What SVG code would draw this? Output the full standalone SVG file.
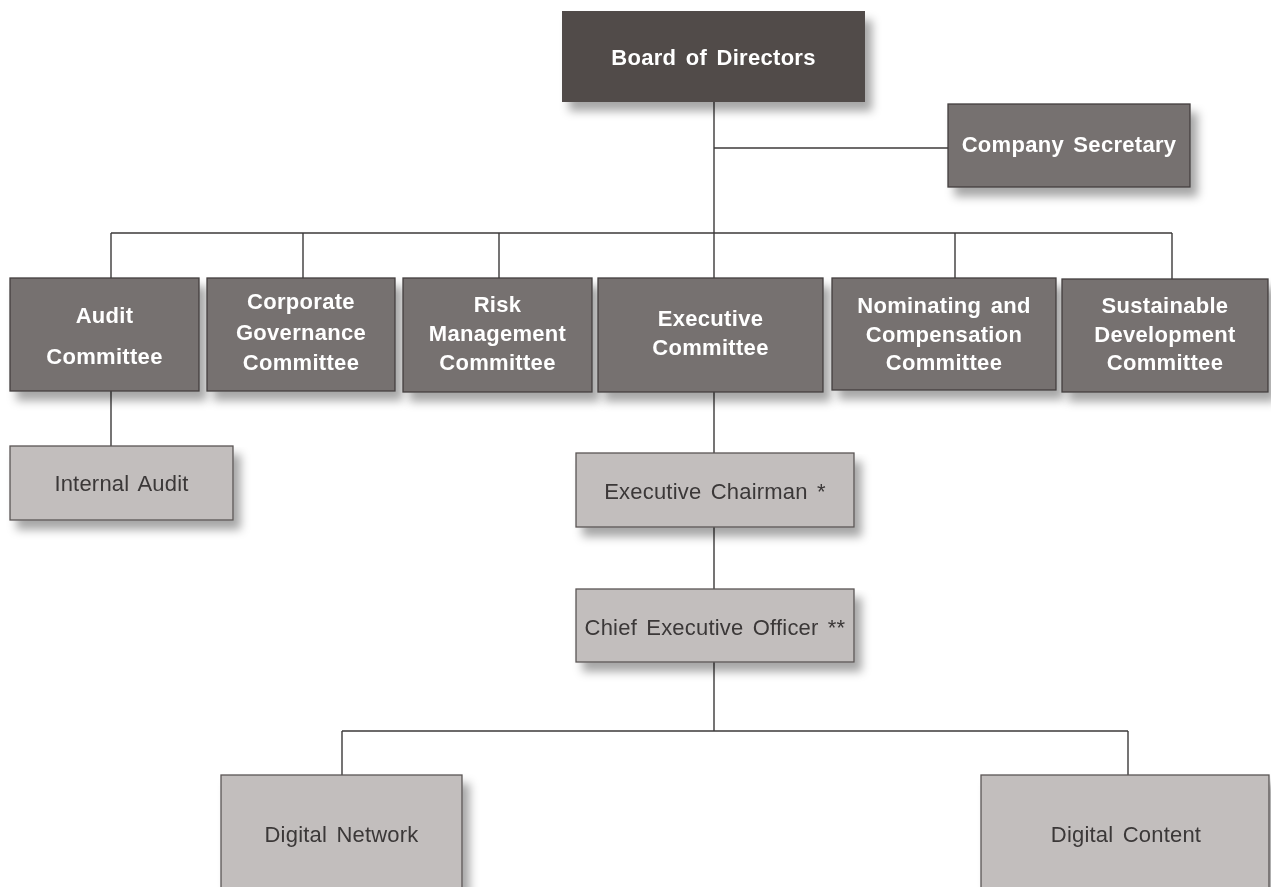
<svg xmlns="http://www.w3.org/2000/svg" width="1271" height="887" viewBox="0 0 1271 887">
<defs>
<filter id="sh" x="-10%" y="-10%" width="130%" height="140%">
<feGaussianBlur in="SourceAlpha" stdDeviation="5"/>
<feOffset dx="7" dy="9" result="b"/>
<feFlood flood-color="#000" flood-opacity="0.35"/>
<feComposite in2="b" operator="in"/>
<feMerge><feMergeNode/><feMergeNode in="SourceGraphic"/></feMerge>
</filter>
<style>
.top{fill:#514c4a;}
.mid{fill:#767170;stroke:#433f3e;stroke-width:1.3;}
.lt{fill:#c2bebd;stroke:#5a5655;stroke-width:1.3;}
.wt{font-family:"Liberation Sans",Arial,sans-serif;font-weight:bold;font-size:22px;fill:#ffffff;text-anchor:middle;letter-spacing:0.3px;word-spacing:3px;}
.dt{font-family:"Liberation Sans",Arial,sans-serif;font-size:22px;fill:#3a3737;text-anchor:middle;letter-spacing:0.2px;word-spacing:3px;}
.ln{fill:none;stroke:#3c3a3a;stroke-width:1.4;}
</style>
</defs>
<rect width="1271" height="887" fill="#ffffff"/>
<g id="connectors" class="ln">
<path d="M714 102V233M111 233H1172M111 233V278M303 233V278M499 233V278M714 233V278M955 233V278M1172 233V279"/>
<path d="M714 148H948"/>
<path d="M111 391V446"/>
<path d="M714 392V453M714 527V589M714 662V731M342 731H1128M342 731V775M1128 731V775"/>
</g>
<g id="board" filter="url(#sh)">
<rect class="top" x="562" y="11" width="303" height="91"/>
<text class="wt" x="713.5" y="65">Board of Directors</text>
</g>
<g id="secretary" filter="url(#sh)">
<rect class="mid" x="948" y="104" width="242" height="83"/>
<text class="wt" x="1069" y="152">Company Secretary</text>
</g>
<g id="audit" filter="url(#sh)">
<rect class="mid" x="10" y="278" width="189" height="113"/>
<text class="wt" x="104.5" y="323">Audit</text>
<text class="wt" x="104.5" y="364">Committee</text>
</g>
<g id="governance" filter="url(#sh)">
<rect class="mid" x="207" y="278" width="188" height="113"/>
<text class="wt" x="301" y="309">Corporate</text>
<text class="wt" x="301" y="340">Governance</text>
<text class="wt" x="301" y="370">Committee</text>
</g>
<g id="risk" filter="url(#sh)">
<rect class="mid" x="403" y="278" width="189" height="114"/>
<text class="wt" x="497.5" y="312">Risk</text>
<text class="wt" x="497.5" y="341">Management</text>
<text class="wt" x="497.5" y="370">Committee</text>
</g>
<g id="executive" filter="url(#sh)">
<rect class="mid" x="598" y="278" width="225" height="114"/>
<text class="wt" x="710.5" y="326">Executive</text>
<text class="wt" x="710.5" y="355">Committee</text>
</g>
<g id="nominating" filter="url(#sh)">
<rect class="mid" x="832" y="278" width="224" height="112"/>
<text class="wt" x="944" y="313">Nominating and</text>
<text class="wt" x="944" y="342">Compensation</text>
<text class="wt" x="944" y="370">Committee</text>
</g>
<g id="sustainable" filter="url(#sh)">
<rect class="mid" x="1062" y="279" width="206" height="113"/>
<text class="wt" x="1165" y="313">Sustainable</text>
<text class="wt" x="1165" y="342">Development</text>
<text class="wt" x="1165" y="370">Committee</text>
</g>
<g id="internal-audit" filter="url(#sh)">
<rect class="lt" x="10" y="446" width="223" height="74"/>
<text class="dt" x="121.5" y="491">Internal Audit</text>
</g>
<g id="chairman" filter="url(#sh)">
<rect class="lt" x="576" y="453" width="278" height="74"/>
<text class="dt" x="715" y="499">Executive Chairman *</text>
</g>
<g id="ceo" filter="url(#sh)">
<rect class="lt" x="576" y="589" width="278" height="73"/>
<text class="dt" x="715" y="635">Chief Executive Officer **</text>
</g>
<g id="digital-network" filter="url(#sh)">
<rect class="lt" x="221" y="775" width="241" height="130"/>
<text class="dt" x="341.5" y="842">Digital Network</text>
</g>
<g id="digital-content" filter="url(#sh)">
<rect class="lt" x="981" y="775" width="288" height="130"/>
<text class="dt" x="1126" y="842">Digital Content</text>
</g>
</svg>
